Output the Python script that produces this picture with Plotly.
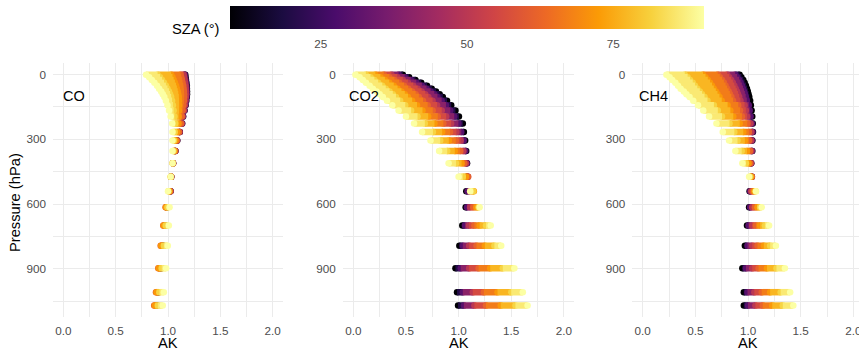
import plotly.graph_objects as go
from plotly.colors import sample_colorscale

# ---------------- data ----------------
PRESSURE = [0.5, 12, 25, 38, 52, 65, 78, 91, 104, 121, 142, 166, 194, 227,
            266, 306, 354, 411, 473, 541, 615, 700, 793, 898, 1009, 1071]
SZA = [9.5, 30, 50, 62, 72, 82, 90.5]

AK_CO = [
    [1.165, 1.160, 1.150, 1.120, 1.030, 0.900, 0.790],
    [1.168, 1.163, 1.154, 1.126, 1.043, 0.924, 0.820],
    [1.172, 1.168, 1.159, 1.133, 1.054, 0.943, 0.845],
    [1.176, 1.172, 1.164, 1.139, 1.066, 0.962, 0.870],
    [1.180, 1.176, 1.169, 1.146, 1.077, 0.980, 0.895],
    [1.181, 1.178, 1.170, 1.149, 1.085, 0.995, 0.915],
    [1.182, 1.179, 1.172, 1.152, 1.093, 1.009, 0.935],
    [1.182, 1.179, 1.173, 1.154, 1.098, 1.020, 0.950],
    [1.180, 1.177, 1.171, 1.154, 1.103, 1.030, 0.965],
    [1.175, 1.172, 1.167, 1.152, 1.105, 1.039, 0.980],
    [1.168, 1.166, 1.161, 1.147, 1.106, 1.047, 0.995],
    [1.158, 1.156, 1.152, 1.140, 1.105, 1.054, 1.010],
    [1.145, 1.143, 1.140, 1.131, 1.102, 1.061, 1.025],
    [1.135, 1.134, 1.131, 1.124, 1.101, 1.069, 1.040],
    [1.113, 1.112, 1.110, 1.105, 1.088, 1.064, 1.043],
    [1.088, 1.087, 1.086, 1.083, 1.072, 1.057, 1.043],
    [1.070, 1.070, 1.069, 1.067, 1.060, 1.052, 1.043],
    [1.048, 1.048, 1.048, 1.047, 1.046, 1.045, 1.043],
    [1.030, 1.030, 1.030, 1.029, 1.028, 1.027, 1.025],
    [1.024, 1.024, 1.023, 1.020, 1.013, 1.005, 1.000],
    [0.990, 0.990, 0.985, 0.977, 0.980, 0.995, 1.015],
    [0.975, 0.972, 0.965, 0.955, 0.958, 0.978, 1.008],
    [0.955, 0.952, 0.942, 0.930, 0.934, 0.960, 0.998],
    [0.935, 0.932, 0.920, 0.907, 0.912, 0.940, 0.982],
    [0.910, 0.907, 0.896, 0.885, 0.890, 0.918, 0.960],
    [0.895, 0.892, 0.880, 0.868, 0.874, 0.903, 0.950],
]

AK_CO2 = [
    [0.470, 0.430, 0.362, 0.290, 0.209, 0.119, 0.020],
    [0.530, 0.488, 0.417, 0.342, 0.257, 0.163, 0.060],
    [0.590, 0.545, 0.470, 0.390, 0.300, 0.200, 0.090],
    [0.645, 0.598, 0.519, 0.435, 0.341, 0.236, 0.120],
    [0.700, 0.651, 0.569, 0.482, 0.384, 0.275, 0.155],
    [0.745, 0.695, 0.611, 0.521, 0.420, 0.308, 0.185],
    [0.785, 0.734, 0.649, 0.559, 0.457, 0.344, 0.220],
    [0.820, 0.769, 0.683, 0.592, 0.489, 0.375, 0.250],
    [0.850, 0.799, 0.713, 0.622, 0.519, 0.405, 0.280],
    [0.890, 0.839, 0.753, 0.662, 0.559, 0.445, 0.320],
    [0.930, 0.880, 0.796, 0.706, 0.605, 0.493, 0.370],
    [0.970, 0.921, 0.840, 0.754, 0.657, 0.549, 0.430],
    [1.003, 0.958, 0.882, 0.802, 0.711, 0.610, 0.500],
    [1.040, 0.998, 0.929, 0.855, 0.771, 0.679, 0.577],
    [1.050, 1.026, 0.979, 0.919, 0.844, 0.756, 0.653],
    [1.062, 1.049, 1.019, 0.973, 0.907, 0.825, 0.733],
    [1.072, 1.064, 1.046, 1.015, 0.964, 0.892, 0.815],
    [1.080, 1.078, 1.070, 1.054, 1.028, 0.975, 0.905],
    [1.080, 1.085, 1.090, 1.090, 1.070, 1.040, 1.000],
    [1.073, 1.085, 1.110, 1.130, 1.145, 1.140, 1.110],
    [1.067, 1.080, 1.110, 1.140, 1.170, 1.190, 1.200],
    [1.035, 1.060, 1.100, 1.150, 1.200, 1.260, 1.305],
    [1.007, 1.040, 1.100, 1.170, 1.250, 1.340, 1.405],
    [0.970, 1.020, 1.100, 1.190, 1.300, 1.420, 1.530],
    [0.985, 1.040, 1.135, 1.240, 1.370, 1.500, 1.610],
    [0.995, 1.050, 1.150, 1.260, 1.400, 1.540, 1.655],
]

AK_CH4 = [
    [0.920, 0.878, 0.802, 0.712, 0.573, 0.399, 0.225],
    [0.937, 0.896, 0.821, 0.732, 0.596, 0.426, 0.255],
    [0.955, 0.915, 0.840, 0.753, 0.618, 0.449, 0.280],
    [0.968, 0.929, 0.856, 0.771, 0.639, 0.475, 0.310],
    [0.980, 0.941, 0.870, 0.787, 0.658, 0.496, 0.335],
    [0.990, 0.952, 0.883, 0.801, 0.675, 0.518, 0.360],
    [0.998, 0.962, 0.895, 0.816, 0.694, 0.542, 0.390],
    [1.005, 0.970, 0.905, 0.828, 0.710, 0.563, 0.415],
    [1.012, 0.978, 0.916, 0.842, 0.729, 0.587, 0.445],
    [1.020, 0.988, 0.928, 0.858, 0.750, 0.615, 0.480],
    [1.027, 1.007, 0.967, 0.907, 0.806, 0.676, 0.525],
    [1.034, 1.016, 0.979, 0.924, 0.832, 0.713, 0.575],
    [1.040, 1.024, 0.991, 0.942, 0.860, 0.753, 0.630],
    [1.045, 1.038, 1.024, 0.993, 0.921, 0.824, 0.700],
    [1.047, 1.043, 1.032, 1.008, 0.955, 0.870, 0.760],
    [1.041, 1.038, 1.030, 1.010, 0.970, 0.900, 0.820],
    [1.040, 1.038, 1.032, 1.018, 0.990, 0.940, 0.880],
    [1.030, 1.030, 1.028, 1.020, 1.005, 0.980, 0.946],
    [1.035, 1.036, 1.037, 1.035, 1.030, 1.020, 1.010],
    [1.015, 1.020, 1.030, 1.045, 1.060, 1.072, 1.076],
    [1.010, 1.020, 1.040, 1.065, 1.090, 1.115, 1.130],
    [0.990, 1.005, 1.040, 1.075, 1.115, 1.160, 1.200],
    [0.970, 0.995, 1.040, 1.090, 1.150, 1.210, 1.265],
    [0.946, 0.980, 1.040, 1.100, 1.180, 1.270, 1.350],
    [0.960, 0.995, 1.060, 1.130, 1.210, 1.310, 1.400],
    [0.960, 1.000, 1.070, 1.140, 1.230, 1.330, 1.430],
]

GASES = ["CO", "CO2", "CH4"]
TABLES = [AK_CO, AK_CO2, AK_CH4]
X_TICKS = [0, 0.5, 1.0, 1.5, 2.0]
X_TICKTEXT = ["0.0", "0.5", "1.0", "1.5", "2.0"]
Y_TICKS = [0, 300, 600, 900]
CB_TICKS = [25, 50, 75]

# ---------------- styling ----------------
W, H = 859, 355
CMIN, CMAX = 9.5, 90.5
SCALE = "Inferno"
MS = 6.5
FONT = "Liberation Sans, Arial, sans-serif"
GRID = "#ebebeb"
TXT = "#4d4d4d"

# plot areas in pixels
PX = [(53, 283), (342.8, 574.4), (632.2, 859)]
XR = [[-0.1, 2.1], [-0.1, 2.1], [-0.1, -0.1 + (859 - 632.2) / 105.3]]
PY = (63, 317)

fig = go.Figure()

def frac(v):
    return (v - CMIN) / (CMAX - CMIN)

for i, (gas, tab) in enumerate(zip(GASES, TABLES)):
    xa = "x" if i == 0 else f"x{i+1}"
    ya = "y" if i == 0 else f"y{i+1}"
    n = len(SZA)
    for k in range(n):
        xs = [row[k] for row in tab]
        fig.add_trace(go.Scatter(
            x=xs, y=PRESSURE, xaxis=xa, yaxis=ya, mode="markers",
            marker=dict(size=MS, color=[SZA[k]] * len(xs), colorscale=SCALE,
                        cmin=CMIN, cmax=CMAX, line=dict(width=0),
                        showscale=(i == 0 and k == 0),
                        colorbar=dict(
                            orientation="h", x=467 / W, xanchor="center",
                            y=1 - 6.5 / H, yanchor="top",
                            len=474 / W, lenmode="fraction", thickness=23,
                            outlinewidth=0, tickvals=CB_TICKS,
                            ticks="outside", ticklen=5, tickcolor="white",
                            tickfont=dict(family=FONT, size=11.7, color=TXT),
                            xpad=0, ypad=0)),
            showlegend=False, hoverinfo="skip"))
        if k < n - 1:
            mid = (SZA[k] + SZA[k + 1]) / 2
            col = sample_colorscale(SCALE, [frac(mid)])[0]
            lx, ly = [], []
            for row, p in zip(tab, PRESSURE):
                lx += [row[k], row[k + 1], None]
                ly += [p, p, None]
            fig.add_trace(go.Scatter(
                x=lx, y=ly, xaxis=xa, yaxis=ya, mode="lines",
                line=dict(color=col, width=MS), showlegend=False,
                hoverinfo="skip"))

layout = dict(
    width=W, height=H,
    margin=dict(l=0, r=0, t=0, b=0, pad=0, autoexpand=False),
    paper_bgcolor="white", plot_bgcolor="white", showlegend=False,
    hovermode=False,
    font=dict(family=FONT, color="black"),
)
annotations = []
for i in range(3):
    sx = "" if i == 0 else str(i + 1)
    x0, x1 = PX[i]
    layout[f"xaxis{sx}"] = dict(
        domain=[x0 / W, min(x1 / W, 1.0)], range=XR[i], anchor=f"y{sx}",
        tickvals=X_TICKS, ticktext=X_TICKTEXT, showgrid=True, gridcolor=GRID,
        gridwidth=1.1, zeroline=False, showline=False, ticks="",
        showspikes=False,
        tickfont=dict(family=FONT, size=11.7, color=TXT),
        ticklabelstandoff=5, automargin=False, ticklabeloverflow="allow",
        minor=dict(tickvals=[0.25, 0.75, 1.25, 1.75], showgrid=True,
                   gridcolor=GRID, gridwidth=0.6),
    )
    layout[f"yaxis{sx}"] = dict(
        domain=[1 - PY[1] / H, 1 - PY[0] / H], range=[1124, -54],
        anchor=f"x{sx}", tickvals=Y_TICKS, showgrid=True, gridcolor=GRID,
        gridwidth=1.1, zeroline=False, showline=False, ticks="",
        showspikes=False,
        tickfont=dict(family=FONT, size=11.7, color=TXT),
        ticklabelstandoff=6, automargin=False,
        minor=dict(tickvals=[150, 450, 750, 1050], showgrid=True,
                   gridcolor=GRID, gridwidth=0.6),
    )
    annotations.append(dict(
        x=0.1, y=100, xref=f"x{sx}", yref=f"y{sx}", text=GASES[i],
        showarrow=False, xanchor="center", yanchor="middle",
        font=dict(family=FONT, size=14.5, color="black")))
    cx = (PX[i][0] + (PX[i][0] + 2.2 * 105.3 if i == 2 else PX[i][1])) / 2
    annotations.append(dict(
        x=cx / W, y=1 - 343 / H, xref="paper", yref="paper", text="AK",
        showarrow=False, xanchor="center", yanchor="middle",
        font=dict(family=FONT, size=14.7, color="black")))

annotations.append(dict(
    x=15 / W, y=1 - 203 / H, xref="paper", yref="paper", text="Pressure (hPa)",
    textangle=-90, showarrow=False, xanchor="center", yanchor="middle",
    font=dict(family=FONT, size=14.7, color="black")))
annotations.append(dict(
    x=222 / W, y=1 - 29 / H, xref="paper", yref="paper", text="SZA (°)",
    showarrow=False, xanchor="right", yanchor="middle",
    font=dict(family=FONT, size=14.7, color="black")))
layout["annotations"] = annotations

fig.update_layout(**layout)
fig.write_html("out.html",
               config={"displayModeBar": False},
               post_script="document.body.style.margin='0px';"
                           "document.body.style.overflow='hidden';")
